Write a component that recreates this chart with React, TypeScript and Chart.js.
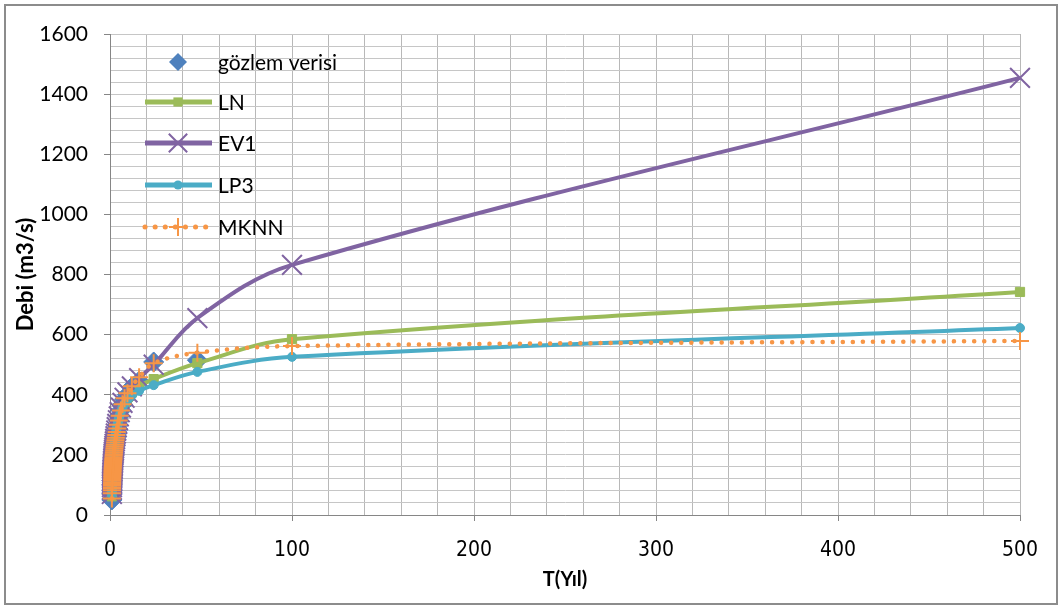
import React, { useEffect, useRef } from 'react';
import { Chart, registerables } from 'chart.js';

Chart.register(...registerables);

// Return periods T (years), ascending
const periods = [1.02, 1.04, 1.07, 1.09, 1.12, 1.14, 1.17, 1.2, 1.23, 1.26, 1.3, 1.33, 1.37, 1.41, 1.45, 1.5, 1.55, 1.6, 1.66, 1.71, 1.78, 1.85, 1.92, 2, 2.09, 2.18, 2.29, 2.4, 2.53, 2.67, 2.82, 3, 3.2, 3.43, 3.69, 4, 4.36, 4.8, 5.33, 6, 6.86, 8, 9.6, 12, 16, 24, 48, 100, 500];

// Observation return periods (no 100 / 500)
const obsPeriods = [1.02, 1.04, 1.07, 1.09, 1.12, 1.14, 1.17, 1.2, 1.23, 1.26, 1.3, 1.33, 1.37, 1.41, 1.45, 1.5, 1.55, 1.6, 1.66, 1.71, 1.78, 1.85, 1.92, 2, 2.09, 2.18, 2.29, 2.4, 2.53, 2.67, 2.82, 3, 3.2, 3.43, 3.69, 4, 4.36, 4.8, 5.33, 6, 6.86, 8, 9.6, 12, 16, 24, 48];

const observed = [50, 72, 82, 90, 97, 103, 109, 115, 120, 126, 131, 136, 141, 146, 151, 156, 161, 166, 171, 176, 181, 186, 191, 197, 202, 208, 214, 220, 227, 234, 241, 249, 257, 266, 276, 288, 300, 314, 330, 348, 368, 385, 400, 425, 445, 509, 515];

const lnValues = [62, 72, 80, 86, 92, 97, 102, 107, 112, 117, 122, 127, 132, 137, 142, 148, 153, 158, 164, 169, 175, 181, 187, 193, 199, 206, 213, 220, 228, 236, 244, 253, 262, 272, 282, 293, 304, 316, 329, 343, 358, 374, 391, 408, 428, 452, 505, 585, 742];

const ev1Values = [70, 84, 93, 100, 106, 111, 116, 121, 126, 131, 136, 141, 146, 151, 156, 161, 166, 171, 176, 181, 187, 192, 198, 204, 210, 216, 223, 230, 237, 245, 253, 262, 271, 281, 292, 303, 315, 328, 342, 357, 373, 390, 408, 428, 455, 500, 655, 832, 1454];

const lp3Values = [68, 78, 86, 92, 98, 103, 108, 113, 118, 123, 128, 133, 138, 143, 148, 154, 159, 164, 170, 175, 181, 187, 193, 199, 206, 212, 219, 227, 234, 242, 250, 259, 268, 278, 288, 298, 309, 320, 332, 344, 357, 370, 384, 398, 413, 432, 476, 526, 622];

const mknnValues = [55, 72, 82, 90, 97, 103, 109, 115, 120, 126, 131, 136, 141, 146, 151, 156, 161, 166, 171, 176, 181, 186, 191, 197, 202, 208, 214, 220, 227, 234, 241, 249, 257, 266, 276, 288, 300, 314, 330, 348, 368, 388, 405, 428, 458, 505, 540, 562, 579];

const seriesNames = ['gözlem verisi', 'LN', 'EV1', 'LP3', 'MKNN'];
const seriesColors = ['#4F81BD', '#9BBB59', '#8064A2', '#4BACC6', '#F79646'];

const xTickLabels = [0, 100, 200, 300, 400, 500];
const yTickLabels = [0, 200, 400, 600, 800, 1000, 1200, 1400, 1600];

const toPoints = (xs: number[], ys: number[]) => xs.map((x, i) => ({ x, y: ys[i] }));

function drawMarker(ctx: CanvasRenderingContext2D, style: string, x: number, y: number, r: number, color: string, lw: number) {
  ctx.save();
  ctx.setLineDash([]);
  ctx.fillStyle = color;
  ctx.strokeStyle = color;
  ctx.lineWidth = lw;
  ctx.beginPath();
  if (style === 'rectRot') {
    ctx.moveTo(x, y - r); ctx.lineTo(x + r, y); ctx.lineTo(x, y + r); ctx.lineTo(x - r, y); ctx.closePath(); ctx.fill();
  } else if (style === 'rect') {
    const s = r * Math.SQRT1_2;
    ctx.rect(x - s, y - s, 2 * s, 2 * s); ctx.fill();
  } else if (style === 'circle') {
    ctx.arc(x, y, r, 0, Math.PI * 2); ctx.fill();
  } else if (style === 'crossRot') {
    const s = r * Math.SQRT1_2;
    ctx.moveTo(x - s, y - s); ctx.lineTo(x + s, y + s);
    ctx.moveTo(x + s, y - s); ctx.lineTo(x - s, y + s); ctx.stroke();
  } else if (style === 'cross') {
    ctx.moveTo(x - r, y); ctx.lineTo(x + r, y);
    ctx.moveTo(x, y - r); ctx.lineTo(x, y + r); ctx.stroke();
  }
  ctx.restore();
}

const legendPlugin = {
  id: 'insideLegend',
  afterDraw(chart: any) {
    const ctx = chart.ctx as CanvasRenderingContext2D;
    const rows = [62, 102, 143, 185, 227];
    const lx0 = 145, lx1 = 212, mx = 178, tx = 218;
    ctx.save();
    chart.data.datasets.forEach((ds: any, i: number) => {
      const y = rows[i];
      if (ds.showLine) {
        ctx.save();
        ctx.strokeStyle = ds.borderColor;
        ctx.lineWidth = 5;
        ctx.setLineDash(ds.borderDash || []);
        ctx.lineCap = ds.borderCapStyle || 'butt';
        ctx.beginPath();
        ctx.moveTo(lx0, y);
        ctx.lineTo(lx1, y);
        ctx.stroke();
        ctx.restore();
      }
      drawMarker(ctx, ds.pointStyle, mx, y, ds.legendRadius, ds.pointBackgroundColor, ds.pointBorderWidth || 1);
      ctx.fillStyle = '#000';
      ctx.font = '21px Lato, "Open Sans", sans-serif';
      ctx.textAlign = 'left';
      ctx.textBaseline = 'middle';
      ctx.fillText(ds.label, tx, y + 1);
    });
    ctx.restore();
  },
};

export default function App() {
  const canvasRef = useRef<HTMLCanvasElement | null>(null);

  useEffect(() => {
    const canvas = canvasRef.current;
    if (!canvas) return;
    const lineCommon = {
      showLine: true,
      borderWidth: 4,
      tension: 0.35,
      clip: false,
    };
    const chart = new Chart(canvas, {
      type: 'scatter',
      data: {
        datasets: [
          {
            label: seriesNames[0],
            data: toPoints(obsPeriods, observed),
            showLine: false,
            pointStyle: 'rectRot',
            pointRadius: 10,
            legendRadius: 9,
            pointBackgroundColor: seriesColors[0],
            pointBorderColor: seriesColors[0],
            pointBorderWidth: 1,
            order: 5,
            clip: false,
          } as any,
          {
            ...lineCommon,
            label: seriesNames[1],
            data: toPoints(periods, lnValues),
            borderColor: seriesColors[1],
            pointStyle: 'rect',
            pointRadius: 6.5,
            legendRadius: 6.5,
            pointBackgroundColor: seriesColors[1],
            pointBorderColor: seriesColors[1],
            pointBorderWidth: 1,
            order: 4,
          } as any,
          {
            ...lineCommon,
            label: seriesNames[2],
            data: toPoints(periods, ev1Values),
            borderColor: seriesColors[2],
            pointStyle: 'crossRot',
            pointRadius: 14,
            legendRadius: 13,
            pointBackgroundColor: seriesColors[2],
            pointBorderColor: seriesColors[2],
            pointBorderWidth: 2,
            order: 3,
          } as any,
          {
            ...lineCommon,
            label: seriesNames[3],
            data: toPoints(periods, lp3Values),
            borderColor: seriesColors[3],
            pointStyle: 'circle',
            pointRadius: 4.5,
            legendRadius: 4.5,
            pointBackgroundColor: seriesColors[3],
            pointBorderColor: seriesColors[3],
            pointBorderWidth: 1,
            order: 2,
          } as any,
          {
            ...lineCommon,
            label: seriesNames[4],
            data: toPoints(periods, mknnValues),
            borderColor: seriesColors[4],
            borderWidth: 4.5,
            borderDash: [0.1, 10],
            borderCapStyle: 'round',
            pointStyle: 'cross',
            pointRadius: 9,
            legendRadius: 9,
            pointBackgroundColor: seriesColors[4],
            pointBorderColor: seriesColors[4],
            pointBorderWidth: 2,
            order: 1,
          } as any,
        ],
      },
      options: {
        responsive: false,
        animation: false,
        events: [],
        layout: { padding: { left: 0, top: 34, right: 41, bottom: 0 } },
        plugins: {
          legend: { display: false },
          tooltip: { enabled: false },
        },
        scales: {
          x: {
            type: 'linear',
            min: 0,
            max: 500,
            afterBuildTicks: (scale: any) => {
              const t: any[] = [];
              for (let v = 0; v <= 500; v += 20) t.push({ value: v });
              scale.ticks = t;
            },
            ticks: {
              autoSkip: false,
              maxRotation: 0,
              padding: 17,
              color: '#000',
              font: { family: '"Liberation Sans Narrow", "DejaVu Sans Condensed", "Liberation Sans", sans-serif', size: 21 },
              callback: (v: any) => (xTickLabels.includes(Number(v)) ? String(v) : ''),
            },
            grid: {
              color: '#b8b8b8',
              lineWidth: 1,
              tickLength: 6,
              tickColor: (c: any) => (c.tick && xTickLabels.includes(c.tick.value) ? '#868686' : 'rgba(0,0,0,0)'),
            },
            border: { display: true, color: '#868686', width: 1 },
            title: {
              display: true,
              text: 'T(Yıl)',
              color: '#000',
              font: { family: 'Lato, "Open Sans", sans-serif', size: 20, weight: 'bold' },
              padding: { top: 0, bottom: 16 },
            },
            afterFit: (scale: any) => {
              scale.height = 93;
              scale.paddingLeft = 0;
              scale.paddingRight = 0;
            },
          },
          y: {
            type: 'linear',
            min: 0,
            max: 1600,
            afterBuildTicks: (scale: any) => {
              const t: any[] = [];
              for (let v = 0; v <= 1600; v += 40) t.push({ value: v });
              scale.ticks = t;
            },
            ticks: {
              autoSkip: false,
              padding: 16,
              color: '#000',
              font: { family: 'Lato, "Open Sans", sans-serif', size: 21 },
              callback: (v: any) => (yTickLabels.includes(Number(v)) ? String(v) : ''),
            },
            grid: {
              color: '#c6c6c6',
              lineWidth: 1,
              tickLength: 6,
              tickColor: (c: any) => (c.tick && yTickLabels.includes(c.tick.value) ? '#868686' : 'rgba(0,0,0,0)'),
            },
            border: { display: true, color: '#868686', width: 1 },
            title: {
              display: true,
              text: 'Debi (m3/s)',
              color: '#000',
              font: { family: 'Lato, "Open Sans", sans-serif', size: 22, weight: 'bold' },
              padding: { top: 13, bottom: 0 },
            },
            afterFit: (scale: any) => {
              scale.width = 110;
              scale.paddingTop = 0;
              scale.paddingBottom = 0;
            },
          },
        },
      } as any,
      plugins: [legendPlugin],
    });
    return () => chart.destroy();
  }, []);

  return (
    <div style={{ position: 'fixed', left: 0, top: 0, width: 1061, height: 608, background: '#fff', overflow: 'hidden' }}>
      <canvas ref={canvasRef} width={1061} height={608} style={{ position: 'absolute', left: 0, top: 0, width: 1061, height: 608 }} />
      <div style={{ position: 'absolute', left: 4, top: 4, width: 1054, height: 601, boxSizing: 'border-box', border: '2px solid #8c8c8c', pointerEvents: 'none' }} />
    </div>
  );
}
